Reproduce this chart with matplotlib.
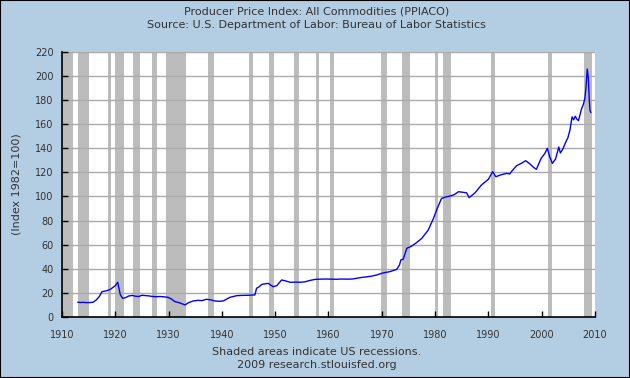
import matplotlib
matplotlib.use("Agg")
import matplotlib.pyplot as plt
from matplotlib.patches import Rectangle

# PPI all commodities (decimal year, index)
years = [1913.0, 1913.5, 1914.0, 1914.6, 1915.3, 1915.8, 1916.4, 1917.0, 1917.5,
         1918.0, 1918.4, 1919.1, 1919.7, 1920.0, 1920.45, 1920.95, 1921.4, 1921.9,
         1922.5, 1923.2, 1923.8, 1924.4, 1925.0, 1925.6, 1926.3, 1927.0, 1927.6,
         1928.3, 1929.0, 1929.9, 1930.5, 1931.2, 1931.9, 1932.5, 1933.1, 1933.7,
         1934.6, 1935.5, 1936.3, 1937.1, 1937.9, 1938.7, 1939.5, 1940.3, 1941.5,
         1942.8, 1943.7, 1944.7, 1945.6, 1946.2, 1946.5, 1947.0, 1947.5, 1948.7,
         1949.6, 1950.3, 1951.2, 1951.9, 1952.8, 1953.8, 1954.7, 1955.6, 1956.5,
         1957.5, 1958.5, 1959.5, 1960.5, 1961.5, 1962.5, 1963.5, 1964.5, 1965.9,
         1967.0, 1968.0, 1969.0, 1970.2, 1971.5, 1972.8, 1973.3, 1973.6, 1974.0,
         1974.7, 1975.5, 1976.5, 1977.5, 1978.7, 1979.7, 1980.4, 1981.2, 1982.0,
         1982.8, 1983.6, 1984.4, 1985.2, 1985.9, 1986.4, 1987.5, 1988.7, 1990.0,
         1990.8, 1991.4, 1992.2, 1993.4, 1994.0, 1994.4, 1995.3, 1996.2, 1997.0,
         1997.8, 1998.5, 1999.0, 1999.9, 2000.6, 2001.05, 2001.5, 2002.0, 2002.6,
         2003.2, 2003.5, 2004.0, 2004.4, 2004.9, 2005.3, 2005.7, 2006.0, 2006.3,
         2006.6, 2006.9, 2007.2, 2007.5, 2007.8, 2008.1, 2008.3, 2008.55, 2008.75,
         2008.9, 2009.05, 2009.2]
ppi = [12.2, 12.0, 12.2, 11.9, 12.0, 12.2, 14.0, 17.0, 21.0,
       21.4, 21.8, 23.0, 25.0, 26.0, 28.8, 18.2, 15.5, 16.0,
       17.4, 17.9, 17.2, 17.0, 18.0, 17.8, 17.5, 17.0, 16.8,
       17.0, 16.8, 16.3, 15.0, 12.7, 12.0, 11.0, 10.0, 11.8,
       13.3, 13.8, 13.6, 14.7, 14.2, 13.3, 13.0, 13.4, 16.3,
       17.7, 17.9, 18.0, 18.2, 18.3, 23.8, 25.1, 27.1, 27.9,
       25.1, 26.0, 30.7, 30.0, 28.8, 28.9, 28.8, 29.2, 30.3,
       31.2, 31.4, 31.5, 31.4, 31.3, 31.5, 31.4, 31.5, 32.6,
       33.2, 33.8, 34.8, 36.5, 37.6, 39.5, 43.0, 47.5, 47.8,
       57.0, 58.5, 61.6, 65.2, 72.0, 81.8, 90.0, 98.3, 99.5,
       100.3, 101.5, 103.9, 103.4, 103.0, 99.0, 103.0, 109.5, 114.2,
       120.5, 116.3, 117.7, 119.1, 118.6, 121.0, 125.5, 127.5, 129.6,
       126.9, 124.0, 122.5, 131.6, 135.7, 139.9, 133.0, 127.4, 131.0,
       141.0, 136.0, 139.5, 144.0, 148.5, 155.0, 166.0, 163.5, 166.5,
       164.0, 162.8, 168.0, 173.0, 176.0, 181.3, 190.0, 205.6, 198.0,
       182.7, 171.6, 169.7]

# NBER recessions (start, end)
recessions = [(1910.0, 1912.0), (1913.0, 1915.0), (1918.6, 1919.2), (1920.0, 1921.55),
              (1923.4, 1924.55), (1926.8, 1927.9), (1929.6, 1933.2), (1937.4, 1938.45),
              (1945.1, 1945.8), (1948.9, 1949.8), (1953.5, 1954.4), (1957.6, 1958.3),
              (1960.3, 1961.1), (1969.9, 1970.9), (1973.85, 1975.2), (1980.0, 1980.5),
              (1981.5, 1982.9), (1990.5, 1991.2), (2001.2, 2001.9), (2007.9, 2009.45)]

bg = "#b3cde3"
txt = "#333333"

fig = plt.figure(figsize=(6.3, 3.78), dpi=100, facecolor=bg)
ax = fig.add_axes([62 / 630, 1 - 317 / 378, 533 / 630, 265.3 / 378])
ax.set_facecolor("white")

for s, e in recessions:
    ax.axvspan(s, e, color="#bcbcbc", lw=0, zorder=1)

ax.set_yticks(range(0, 221, 20))
ax.yaxis.grid(True, color="#aaaaaa", lw=1, zorder=2)
ax.set_axisbelow(False)
ax.plot(years, ppi, color="#0000ff", lw=1, zorder=3)

ax.set_xlim(1910, 2010)
ax.set_ylim(0, 220)
ax.set_xticks(range(1910, 2011, 10))

for side in ("top", "right"):
    ax.spines[side].set_visible(False)
for side in ("left", "bottom"):
    ax.spines[side].set_color("black")
    ax.spines[side].set_linewidth(1.2)
    ax.spines[side].set_zorder(4)
ax.tick_params(direction="in", length=4, width=1, colors="black",
               labelcolor=txt, labelsize=7)
ax.tick_params(axis="x", pad=9)
ax.tick_params(axis="y", pad=6)
ax.set_ylabel("(Index 1982=100)", fontsize=8, color=txt, labelpad=10)

fig.text(0.503, 1 - 12 / 378, "Producer Price Index: All Commodities (PPIACO)",
         ha="center", va="center", fontsize=8, color=txt)
fig.text(0.503, 1 - 25 / 378, "Source: U.S. Department of Labor: Bureau of Labor Statistics",
         ha="center", va="center", fontsize=8, color=txt)
fig.text(0.503, 1 - 352 / 378, "Shaded areas indicate US recessions.",
         ha="center", va="center", fontsize=8, color=txt)
fig.text(0.503, 1 - 365 / 378, "2009 research.stlouisfed.org",
         ha="center", va="center", fontsize=8, color=txt)

fig.patches.append(Rectangle((0, 0), 1, 1, transform=fig.transFigure, fill=False,
                             edgecolor="black", lw=1.5))

fig.savefig("out.png", dpi=100, facecolor=bg)
